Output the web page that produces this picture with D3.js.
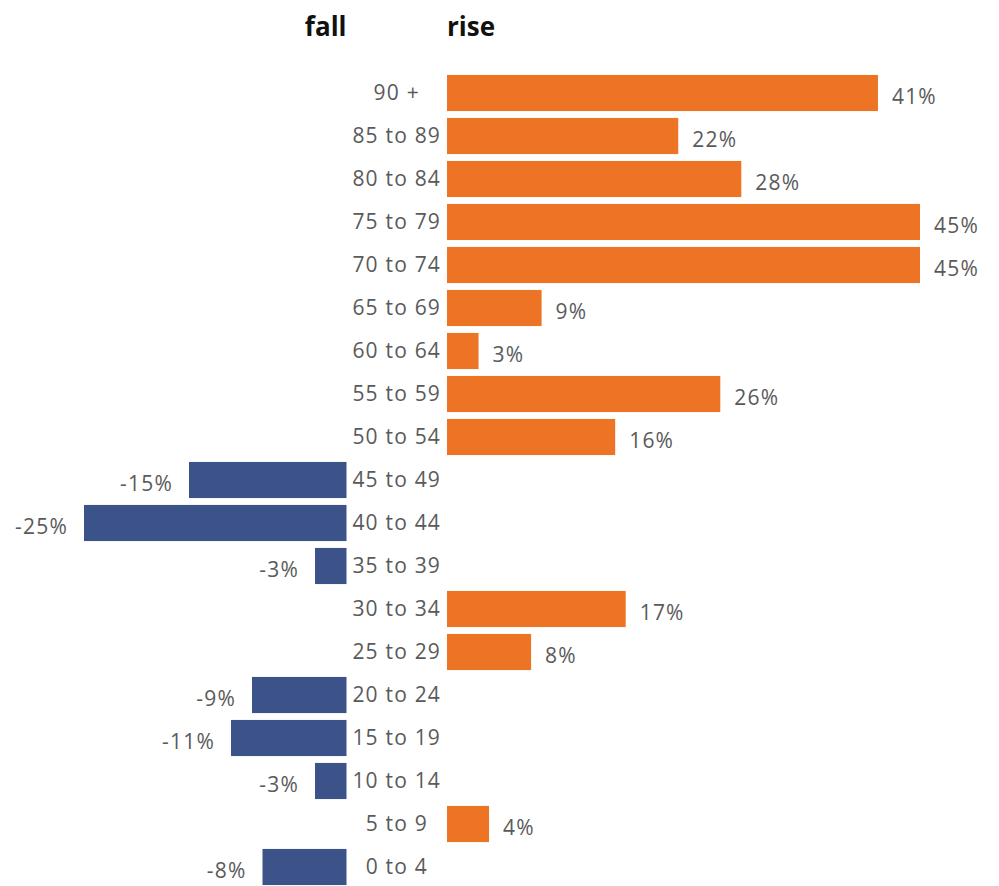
<!DOCTYPE html>
<html><head><meta charset="utf-8">
<script src="https://cdn.jsdelivr.net/npm/d3@7"></script>
<style>
body{margin:0;background:#fff;}
svg{display:block;font-family:"Open Sans",sans-serif;}
</style></head>
<body><svg id="c" width="999" height="886"></svg>
<script>
const categories = ["90 +","85 to 89","80 to 84","75 to 79","70 to 74","65 to 69","60 to 64","55 to 59","50 to 54","45 to 49","40 to 44","35 to 39","30 to 34","25 to 29","20 to 24","15 to 19","10 to 14","5 to 9","0 to 4"];
const changes = [41,22,28,45,45,9,3,26,16,-15,-25,-3,17,8,-9,-11,-3,4,-8];
const headers = ["fall","rise"];

const data = categories.map((c,i)=>({cat:c, v:changes[i]}));
const svg = d3.select("#c");

const y = d3.scaleBand().domain(categories).range([71.5, 888.5]).paddingInner(0.16).paddingOuter(0.08);
const xRise = d3.scaleLinear().domain([0,45]).range([447,920]);
const xFall = d3.scaleLinear().domain([-25,0]).range([84,346.5]);
const labelX = (xFall(0)+xRise(0))/2;

const orange = "#ec7424", blue = "#3c5389";

svg.selectAll("rect.bar").data(data).join("rect")
  .attr("class","bar")
  .attr("x", d=> d.v>=0 ? xRise(0) : xFall(d.v))
  .attr("width", d=> d.v>=0 ? xRise(d.v)-xRise(0) : xFall(0)-xFall(d.v))
  .attr("y", d=>y(d.cat))
  .attr("height", y.bandwidth())
  .attr("fill", d=> d.v>=0 ? orange : blue);

const txt = {"font-size":"21px","letter-spacing":"1.2px","fill":"#5a5a5a"};

svg.selectAll("text.cat").data(data).join("text")
  .attr("class","cat")
  .attr("x", labelX)
  .attr("y", d=>y(d.cat)+y.bandwidth()/2)
  .attr("dy","0.35em")
  .attr("text-anchor","middle")
  .attr("font-size",txt["font-size"]).attr("letter-spacing",txt["letter-spacing"]).attr("fill",txt.fill)
  .text(d=>d.cat);

svg.selectAll("text.val").data(data).join("text")
  .attr("class","val")
  .attr("x", d=> d.v>=0 ? xRise(d.v)+14 : xFall(d.v)-16)
  .attr("y", d=>y(d.cat)+y.bandwidth()/2+4)
  .attr("dy","0.35em")
  .attr("text-anchor", d=> d.v>=0 ? "start" : "end")
  .attr("font-size",txt["font-size"]).attr("letter-spacing",txt["letter-spacing"]).attr("fill",txt.fill)
  .text(d=>d.v+"%");

svg.selectAll("text.head").data(headers).join("text")
  .attr("class","head")
  .attr("x",(d,i)=> i===0 ? xFall(0) : xRise(0))
  .attr("y",36)
  .attr("text-anchor",(d,i)=> i===0 ? "end" : "start")
  .attr("font-size","26px").attr("font-weight","bold").attr("fill","#111")
  .text(d=>d);
</script></body></html>
